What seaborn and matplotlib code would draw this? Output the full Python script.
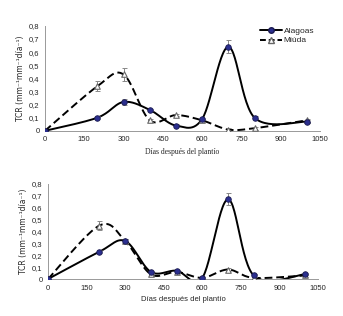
import numpy as np
import pandas as pd
import matplotlib
matplotlib.use("Agg")
import matplotlib.pyplot as plt
import seaborn as sns

days = [0, 200, 300, 400, 500, 600, 700, 800, 1000]

# panel 1
alagoas_1 = [0.0, 0.10, 0.22, 0.16, 0.04, 0.09, 0.64, 0.10, 0.07]
alagoas_1_err = [0.0, 0.01, 0.02, 0.01, 0.01, 0.01, 0.05, 0.01, 0.01]
miuda_1 = [0.0, 0.34, 0.43, 0.08, 0.12, 0.08, 0.01, 0.02, 0.08]
miuda_1_err = [0.0, 0.04, 0.05, 0.01, 0.01, 0.01, 0.01, 0.01, 0.01]

# panel 2
alagoas_2 = [0.0, 0.23, 0.32, 0.06, 0.07, 0.01, 0.67, 0.03, 0.04]
alagoas_2_err = [0.0, 0.01, 0.02, 0.01, 0.01, 0.01, 0.05, 0.01, 0.01]
miuda_2 = [0.0, 0.45, 0.32, 0.04, 0.06, 0.01, 0.08, 0.01, 0.03]
miuda_2_err = [0.0, 0.04, 0.02, 0.01, 0.01, 0.01, 0.01, 0.01, 0.01]

xticks = [0, 150, 300, 450, 600, 750, 900, 1050]
yticks = [0, 0.1, 0.2, 0.3, 0.4, 0.5, 0.6, 0.7, 0.8]
ytick_labels = ["0", "0,1", "0,2", "0,3", "0,4", "0,5", "0,6", "0,7", "0,8"]

NAVY = "#2b2f8f"


def smooth(x, y, xr=1050, yr=0.8, aspect=0.38, n=30):
    # excel-like smoothed line (catmull-rom bezier) in screen-like space
    px = np.asarray(x, float) / xr
    py = np.asarray(y, float) / yr * aspect
    P = np.column_stack([px, py])
    P = np.vstack([P[0], P, P[-1]])
    out = []
    for i in range(1, len(P) - 2):
        p0, p3 = P[i], P[i + 1]
        c1 = p0 + (P[i + 1] - P[i - 1]) / 6
        c2 = p3 - (P[i + 2] - P[i]) / 6
        t = np.linspace(0, 1, n)[:, None]
        seg = (1 - t) ** 3 * p0 + 3 * (1 - t) ** 2 * t * c1 + 3 * (1 - t) * t ** 2 * c2 + t ** 3 * p3
        out.append(seg if i == 1 else seg[1:])
    out = np.vstack(out)
    return out[:, 0] * xr, out[:, 1] / aspect * yr


def panel(ax, a, a_err, m, m_err, xlabel, xfont, legend=False):
    for vals, ls in [(m, (0, (4, 2))), (a, "-")]:
        sx, sy = smooth(days, vals)
        sns.lineplot(x=sx, y=sy, sort=False, estimator=None, ax=ax,
                     color="black", lw=1.4, linestyle=ls, zorder=2)
    ax.errorbar(days, a, yerr=a_err, fmt="none", ecolor="#888888",
                elinewidth=0.7, capsize=1.8, capthick=0.7, zorder=3)
    ax.errorbar(days, m, yerr=m_err, fmt="none", ecolor="#888888",
                elinewidth=0.7, capsize=1.8, capthick=0.7, zorder=3)
    sns.scatterplot(x=days, y=m, marker="^", s=16, color="white",
                    edgecolor="#666666", linewidth=0.8, ax=ax, zorder=4)
    sns.scatterplot(x=days, y=a, marker="o", s=16, color=NAVY,
                    edgecolor="#1a1a50", linewidth=0.6, ax=ax, zorder=5)
    ax.set_xlim(0, 1050)
    ax.set_ylim(0, 0.8)
    ax.set_xticks(xticks)
    ax.set_yticks(yticks)
    ax.set_yticklabels(ytick_labels)
    ax.tick_params(labelsize=5.5, length=2, width=0.6, color="#999999", pad=2)
    for s in ["top", "right"]:
        ax.spines[s].set_visible(False)
    for s in ["left", "bottom"]:
        ax.spines[s].set_color("#999999")
        ax.spines[s].set_linewidth(0.7)
    ax.set_xlabel(xlabel, fontsize=5.5, family=xfont, labelpad=3)
    ax.set_ylabel("TCR (mm⁻¹mm⁻¹día⁻¹)", fontsize=5.5, labelpad=3,
                  family=["DejaVu Sans"])
    ax.grid(False)
    if legend:
        h1 = plt.Line2D([], [], color="black", lw=1.4, marker="o", ms=4,
                        mfc=NAVY, mec="#1a1a50")
        h2 = plt.Line2D([], [], color="black", lw=1.4, ls=(0, (3, 1.5)), marker="^",
                        ms=4, mfc="white", mec="#666666")
        ax.legend([h1, h2], ["Alagoas", "Miúda"], loc="upper right",
                  bbox_to_anchor=(1.0, 1.04), frameon=False, fontsize=6,
                  handlelength=2.6, handletextpad=0.2, labelspacing=0.15,
                  borderpad=0.2)


sns.set_style("white")
plt.rcParams["font.family"] = ["Liberation Sans", "DejaVu Sans"]

fig = plt.figure(figsize=(3.43, 3.16), dpi=100)
ax1 = fig.add_axes([0.131, 0.586, 0.802, 0.332])
ax2 = fig.add_axes([0.140, 0.117, 0.787, 0.301])

panel(ax1, alagoas_1, alagoas_1_err, miuda_1, miuda_1_err,
      "Días después del plantío", ["Liberation Serif", "DejaVu Serif"], legend=True)
panel(ax2, alagoas_2, alagoas_2_err, miuda_2, miuda_2_err,
      "Días después del plantío", ["Liberation Sans", "DejaVu Sans"])

fig.savefig("out.png", dpi=100)
